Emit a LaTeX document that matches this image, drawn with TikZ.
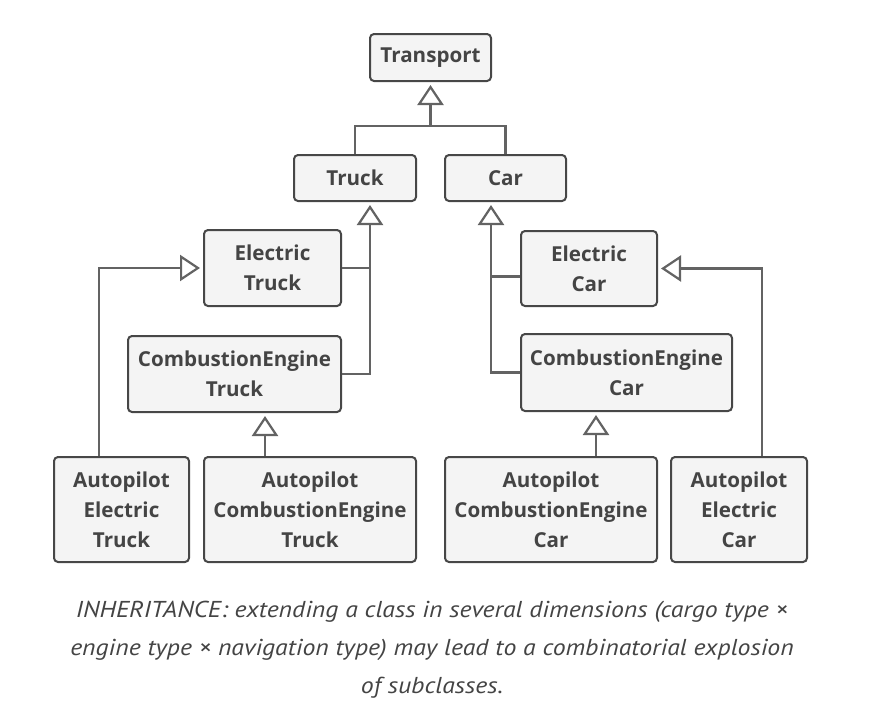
\documentclass[tikz,border=0pt]{standalone}
\usepackage{fontspec}
\setmainfont{Open Sans}
\newfontfamily\capfont{PT Sans}[FakeStretch=1.12]
\usetikzlibrary{arrows.meta}

\definecolor{boxfill}{HTML}{F4F4F4}
\definecolor{boxline}{HTML}{474747}
\definecolor{linkline}{HTML}{636363}
\definecolor{textgray}{HTML}{444444}

\tikzset{
  cls/.style={draw=boxline, fill=boxfill, line width=2pt, rounded corners=4pt,
    align=center, inner sep=0pt, text=textgray,
    font=\bfseries\fontsize{20.6}{30}\selectfont},
  link/.style={draw=linkline, line width=2.2pt},
  inh/.style={link, shorten >=3pt,
    -{Triangle[open, fill=white, length=20pt, width=26pt, line width=2.2pt]}},
}

\begin{document}
\begin{tikzpicture}[x=1pt, y=-1pt]

    \useasboundingbox (0,0) rectangle (877,726);

    % base classes
    \node[cls, minimum width=121, minimum height=47] (transport) at (430.5,57.5) {Transport};
    \node[cls, minimum width=122, minimum height=46] (truck) at (355,178) {Truck};
    \node[cls, minimum width=121, minimum height=46] (car) at (505.5,178) {Car};

    % engine subclasses
    \node[cls, minimum width=137, minimum height=76] (etruck) at (272.5,268) {Electric\\Truck};
    \node[cls, minimum width=213, minimum height=76] (cetruck) at (234.5,374) {CombustionEngine\\Truck};
    \node[cls, minimum width=136, minimum height=75] (ecar) at (589,268.5) {Electric\\Car};
    \node[cls, minimum width=211, minimum height=77] (cecar) at (626.5,372.5) {CombustionEngine\\Car};

    % navigation subclasses
    \node[cls, minimum width=135, minimum height=105] (apetruck) at (121.5,509.5) {Autopilot\\Electric\\Truck};
    \node[cls, minimum width=212, minimum height=105] (apcetruck) at (310,509.5) {Autopilot\\CombustionEngine\\Truck};
    \node[cls, minimum width=212, minimum height=105] (apcecar) at (551,509.5) {Autopilot\\CombustionEngine\\Car};
    \node[cls, minimum width=136, minimum height=105] (apecar) at (739,509.5) {Autopilot\\Electric\\Car};

    % joints
    \coordinate (tj) at (430.5,126);
    \coordinate (tv) at (370,0);
    \coordinate (cv) at (491,0);
    \coordinate (lv) at (99,0);
    \coordinate (rv) at (762,0);
    \coordinate (ctv) at (265,0);
    \coordinate (ccv) at (596,0);

    % Transport
    \draw[link] (car.north) |- (tj);
    \draw[inh] (truck.north) |- (tj) -- (transport.south);

    % Truck
    \draw[link] (etruck.east) -- (etruck.east -| tv);
    \draw[inh] (cetruck.east) -| (tv |- truck.south);

    % Car
    \draw[link] ([yshift=-8pt]ecar.west) -- ([yshift=-8pt]ecar.west -| cv);
    \draw[inh] (cecar.west) -| (cv |- car.south);

    % Autopilot
    \draw[inh] (apetruck.north -| lv) |- (etruck.west);
    \draw[inh] (apecar.north -| rv) |- (ecar.east);
    \draw[inh] (apcetruck.north -| ctv) -- (cetruck.south -| ctv);
    \draw[inh] (apcecar.north -| ccv) -- (cecar.south -| ccv);

    % caption
    \node[align=center, text=textgray, font=\capfont\itshape\fontsize{23}{38}\selectfont]
        (caption) at (432,650)
        {INHERITANCE: extending a class in several dimensions (cargo type ×\\
         engine type × navigation type) may lead to a combinatorial explosion\\
         of subclasses.};

\end{tikzpicture}
\end{document}
